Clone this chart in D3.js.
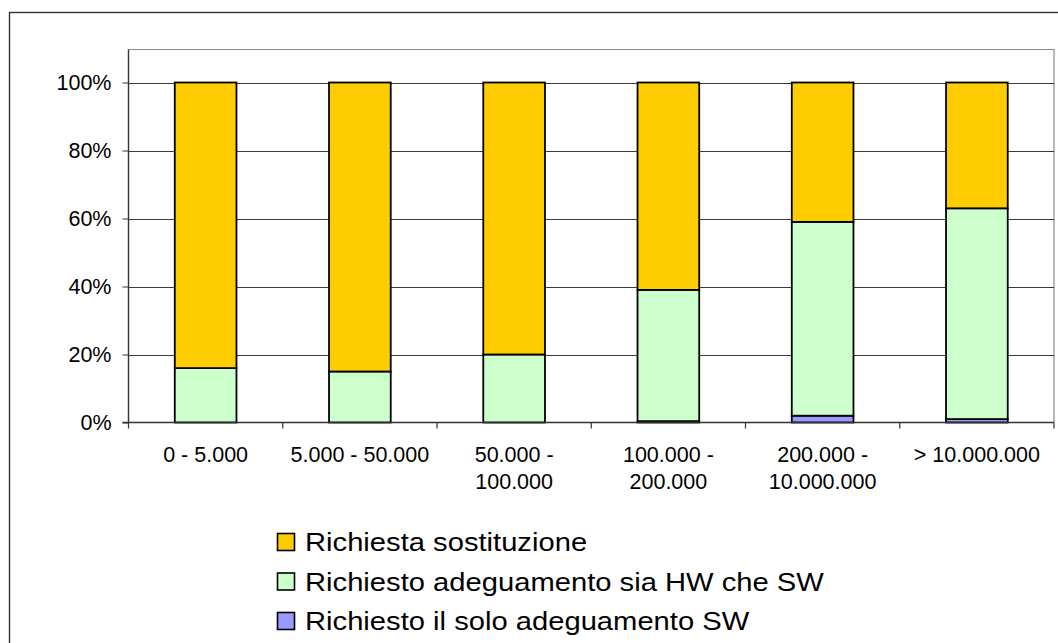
<!DOCTYPE html>
<html>
<head>
<meta charset="utf-8">
<script src="https://cdn.jsdelivr.net/npm/d3@7"></script>
<style>
  html, body { margin: 0; padding: 0; background: #fff; }
  svg { display: block; }
  text { font-family: "Liberation Sans", Arial, sans-serif; fill: #000; }
</style>
</head>
<body>
<svg id="chart" width="1058" height="643"></svg>
<script>
// Size classes (inhabitants) on the x axis; "\n" marks a line break in the label
const categories = ["0 - 5.000", "5.000 - 50.000", "50.000 -\n100.000", "100.000 -\n200.000", "200.000 -\n10.000.000", "> 10.000.000"];

// Percentages per class, stacked bottom to top
const soloSW      = [0, 0, 0, 0.4, 2, 1];
const hwSw        = [16, 15, 20, 38.6, 57, 62];
const sostituzione = [84, 85, 80, 61, 41, 37];

const seriesNames  = ["Richiesto il solo adeguamento SW", "Richiesto adeguamento sia HW che SW", "Richiesta sostituzione"];
const seriesColors = ["#9999FF", "#CCFFCC", "#FFCC00"];

const yTicks = [0, 20, 40, 60, 80, 100];

const rows = categories.map((c, i) => ({
  cat: c, s0: soloSW[i], s1: hwSw[i], s2: sostituzione[i]
}));

const svg = d3.select("#chart");

// outer chart frame
svg.append("rect")
  .attr("x", 9.5).attr("y", 12.5)
  .attr("width", 1200).attr("height", 800)
  .attr("fill", "none").attr("stroke", "#333").attr("stroke-width", 1.4);

const plot = { left: 128.5, right: 1054, top: 49.5, bottom: 422.5 };

const x = d3.scaleBand()
  .domain(categories)
  .range([plot.left, plot.right])
  .paddingInner(0.6).paddingOuter(0.3);

const xBand = d3.scaleBand().domain(categories).range([plot.left, plot.right]);

const y = d3.scaleLinear().domain([0, 100]).range([plot.bottom, 82.5]);

// plot area border (top and right)
svg.append("path")
  .attr("d", `M${plot.left},${plot.top}H${plot.right}V${plot.bottom}`)
  .attr("fill", "none").attr("stroke", "#8c8c8c").attr("stroke-width", 1.2);

// horizontal gridlines
svg.append("g")
  .selectAll("line")
  .data(yTicks.filter(d => d > 0))
  .join("line")
  .attr("x1", plot.left).attr("x2", plot.right)
  .attr("y1", d => Math.round(y(d)) + 0.5).attr("y2", d => Math.round(y(d)) + 0.5)
  .attr("stroke", "#3a3a3a").attr("stroke-width", 1);

// stacked bars
const stack = d3.stack().keys(["s0", "s1", "s2"]);
const stacked = stack(rows);

svg.append("g")
  .selectAll("g")
  .data(stacked)
  .join("g")
  .attr("fill", (d, i) => seriesColors[i])
  .selectAll("rect")
  .data(d => d.filter(p => p[1] - p[0] > 0))
  .join("rect")
  .attr("x", d => x(d.data.cat))
  .attr("width", x.bandwidth())
  .attr("y", d => y(d[1]))
  .attr("height", d => y(d[0]) - y(d[1]))
  .attr("stroke", "#000")
  .attr("stroke-width", 1.8);

// y axis
const yAxis = svg.append("g")
  .attr("transform", `translate(${plot.left},0)`)
  .call(d3.axisLeft(y).tickValues(yTicks).tickFormat(d => d + "%").tickSize(6).tickPadding(11));
yAxis.selectAll("text")
  .style("font-family", '"Liberation Sans", Arial, sans-serif')
  .style("font-size", "21.5px")
  .attr("fill", "#000");
yAxis.selectAll("line").attr("stroke", "#333");
yAxis.select(".domain").attr("stroke", "#333").attr("stroke-width", 1.4)
  .attr("d", `M0,${plot.bottom}V${plot.top}`);

// x axis baseline and boundary ticks
const xg = svg.append("g");
xg.append("line")
  .attr("x1", plot.left - 6).attr("x2", plot.right)
  .attr("y1", plot.bottom).attr("y2", plot.bottom)
  .attr("stroke", "#333").attr("stroke-width", 1.4);

const bounds = categories.map(c => xBand(c)).concat([plot.right]);
xg.selectAll("line.tick")
  .data(bounds)
  .join("line")
  .attr("class", "tick")
  .attr("x1", d => d).attr("x2", d => d)
  .attr("y1", plot.bottom).attr("y2", plot.bottom + 6)
  .attr("stroke", "#333").attr("stroke-width", 1.2);

// category labels
xg.selectAll("text")
  .data(categories)
  .join("text")
  .attr("text-anchor", "middle")
  .attr("x", d => xBand(d) + xBand.bandwidth() / 2)
  .attr("y", 461.5)
  .style("font-size", "21.5px")
  .each(function(d) {
    const t = d3.select(this);
    d.split("\n").forEach((line, k) => {
      t.append("tspan")
        .attr("x", xBand(d) + xBand.bandwidth() / 2)
        .attr("dy", k === 0 ? 0 : 27.6)
        .text(line);
    });
  });

// legend (top to bottom: last series first)
const legendOrder = [2, 1, 0];
const legend = svg.append("g");
const rowY = d3.scalePoint().domain(legendOrder).range([551, 630]);

const items = legend.selectAll("g")
  .data(legendOrder)
  .join("g")
  .attr("transform", d => `translate(0,${rowY(d)})`);

items.append("rect")
  .attr("x", 277.5).attr("y", -17.5)
  .attr("width", 17).attr("height", 17)
  .attr("fill", d => seriesColors[d])
  .attr("stroke", "#000").attr("stroke-width", 1.6);

const legendTexts = items.append("text")
  .attr("x", 0).attr("y", 0)
  .style("font-size", "26px")
  .text(d => seriesNames[d]);

// slight horizontal widening of the legend lettering
const longest = d3.max(legendTexts.nodes(), n => n.getComputedTextLength());
const sx = 519 / longest;
legendTexts.attr("transform", `translate(305,0) scale(${sx},1)`);
</script>
</body>
</html>
